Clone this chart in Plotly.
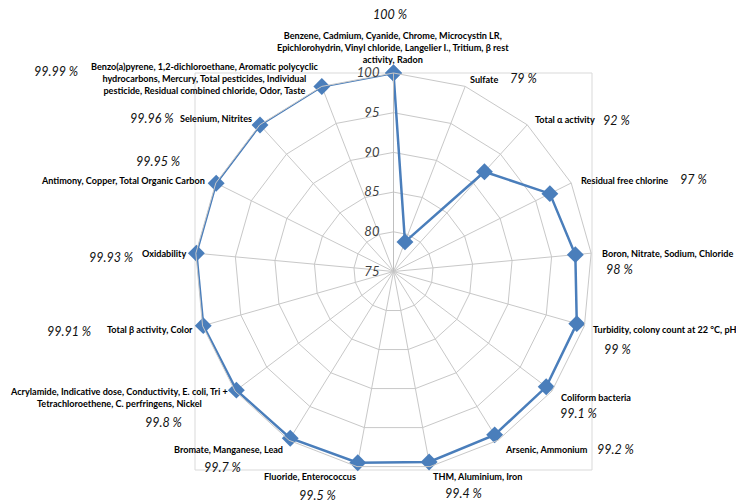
import plotly.graph_objects as go

categories = [
    "Benzene, Cadmium, Cyanide, Chrome, Microcystin LR,<br>Epichlorohydrin, Vinyl chloride, Langelier I., Tritium, β rest<br>activity, Radon",
    "Sulfate",
    "Total α activity",
    "Residual free chlorine",
    "Boron, Nitrate, Sodium, Chloride",
    "Turbidity, colony count at 22 °C, pH",
    "Coliform bacteria",
    "Arsenic, Ammonium",
    "THM, Aluminium, Iron",
    "Fluoride, Enterococcus",
    "Bromate, Manganese, Lead",
    "Acrylamide, Indicative dose, Conductivity, E. coli, Tri +<br>Tetrachloroethene, C. perfringens, Nickel",
    "Total β activity, Color",
    "Oxidability",
    "Antimony, Copper, Total Organic Carbon",
    "Selenium, Nitrites",
    "Benzo(a)pyrene, 1,2-dichloroethane, Aromatic polycyclic<br>hydrocarbons, Mercury, Total pesticides, Individual<br>pesticide, Residual combined chloride, Odor, Taste",
]
values = [100, 79, 92, 97, 98, 99, 99.1, 99.2, 99.4, 99.5, 99.7, 99.8, 99.91, 99.93, 99.95, 99.96, 99.99]
pct_labels = ["100 %", "79 %", "92 %", "97 %", "98 %", "99 %", "99.1 %", "99.2 %", "99.4 %",
              "99.5 %", "99.7 %", "99.8 %", "99.91 %", "99.93 %", "99.95 %", "99.96 %", "99.99 %"]
radial_ticks = [75, 80, 85, 90, 95, 100]

# layout only: pixel anchors of the category labels (x, y, xanchor)
cat_pos = [(393, 47, "center"), (468, 79, "left"), (533, 119, "left"), (579, 180, "left"),
           (600, 253, "left"), (591, 329, "left"), (559, 397, "left"), (503, 449, "left"),
           (477, 476, "center"), (310, 476, "center"), (285, 449, "right"), (119, 397, "center"),
           (195, 329, "right"), (188, 253, "right"), (207, 180, "right"), (254, 118, "right"),
           (204, 78, "center")]
# layout only: pixel positions of the percentage labels
pct_pos = [(390, 14), (523, 78), (616, 120), (693, 179), (619, 269), (617, 349), (578, 413),
           (615, 449), (463, 493), (317, 495), (222, 467), (163, 422), (69, 331), (111, 257),
           (158, 162), (152, 118), (56, 72)]

W, H = 736, 504
BLUE = "#4a7ebb"
GRID = "#c8c8c8"

fig = go.Figure()
fig.add_trace(go.Scatterpolar(
    r=values + values[:1],
    theta=categories + categories[:1],
    mode="lines+markers",
    line=dict(color=BLUE, width=2.5),
    marker=dict(symbol="diamond", size=13, color=BLUE),
    showlegend=False,
    hoverinfo="skip",
))

px0, px1, py0, py1 = 195, 592, 73, 470
fig.update_layout(
    width=W, height=H,
    margin=dict(l=0, r=0, t=0, b=0),
    paper_bgcolor="white",
    polar=dict(
        domain=dict(x=[px0 / W, px1 / W], y=[1 - py1 / H, 1 - py0 / H]),
        bgcolor="white",
        gridshape="linear",
        radialaxis=dict(
            range=[75, 100],
            tickvals=radial_ticks,
            angle=90,
            tickangle=90,
            side="counterclockwise",
            showline=True, linecolor="#bfbfbf", linewidth=1,
            gridcolor=GRID, gridwidth=1,
            ticks="outside", ticklen=9, tickcolor="rgba(0,0,0,0)",
            tickfont=dict(family="Lato", size=13, color="#404040", style="italic"),
        ),
        angularaxis=dict(
            rotation=90,
            direction="clockwise",
            showline=True, linecolor=GRID, linewidth=1,
            gridcolor=GRID, gridwidth=1,
            ticks="",
            showticklabels=False,
        ),
    ),
    shapes=[dict(type="rect", xref="paper", yref="paper",
                 x0=px0 / W, x1=px1 / W, y0=1 - py1 / H, y1=1 - py0 / H,
                 line=dict(color="#d9d9d9", width=1), layer="below")],
)

for text, (x, y, anc) in zip(categories, cat_pos):
    fig.add_annotation(
        x=x / W, y=1 - y / H, xref="paper", yref="paper",
        text=text, showarrow=False, xanchor=anc, yanchor="middle", align="center",
        font=dict(family="Lato", size=9.1, color="#000000", weight="bold"),
    )

for text, (x, y) in zip(pct_labels, pct_pos):
    fig.add_annotation(
        x=x / W, y=1 - y / H, xref="paper", yref="paper",
        text=text, showarrow=False, xanchor="center", yanchor="middle",
        font=dict(family="Lato", size=12.5, color="#111111", style="italic"),
    )

fig.write_html("out.html")
